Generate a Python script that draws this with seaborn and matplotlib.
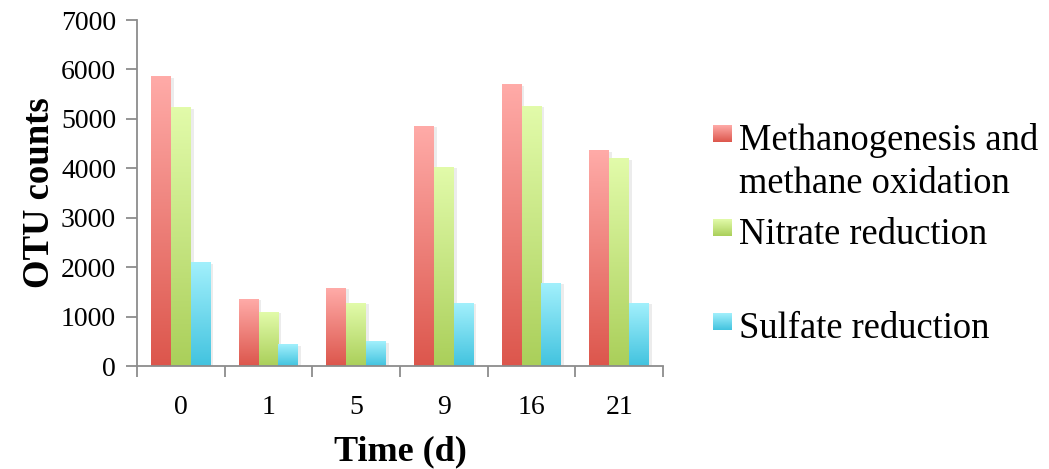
import numpy as np
import pandas as pd
import matplotlib
matplotlib.use("Agg")
import matplotlib.pyplot as plt
import seaborn as sns
from matplotlib.colors import to_rgb
from matplotlib.ticker import MultipleLocator, FixedLocator
import matplotlib.patheffects as pe

# ---- data ----
times = ["0", "1", "5", "9", "16", "21"]
series = ["Methanogenesis and methane oxidation", "Nitrate reduction", "Sulfate reduction"]
methane = [5860, 1355, 1578, 4855, 5685, 4350]
nitrate = [5220, 1092, 1274, 4026, 5260, 4188]
sulfate = [2084, 425, 486, 1274, 1679, 1274]
legend_lines = [["Methanogenesis and", "methane oxidation"], ["Nitrate reduction"], ["Sulfate reduction"]]

# gradient colours (top, bottom)
grads = [("#FFABA8", "#DC564C"), ("#E2FBAA", "#AACF5A"), ("#A2F0FC", "#42C3DF")]

df = pd.DataFrame({
    "Time": times * 3,
    "Series": sum([[s] * len(times) for s in series], []),
    "Count": methane + nitrate + sulfate,
})

sns.set_theme(style="white")
plt.rcParams["font.family"] = ["Liberation Serif", "DejaVu Serif"]
plt.rcParams["text.color"] = "black"
plt.rcParams["axes.labelcolor"] = "black"

W, H = 1049, 469
fig = plt.figure(figsize=(W / 100, H / 100), dpi=100)
ax = fig.add_axes([137 / W, 1 - 366 / H, (663 - 137) / W, (366 - 20) / H])

mid = [tuple((np.array(to_rgb(a)) + np.array(to_rgb(b))) / 2) for a, b in grads]
sns.barplot(data=df, x="Time", y="Count", hue="Series", order=times, hue_order=series,
            palette=mid, width=0.68, legend=False, ax=ax, saturation=1, linewidth=0)

def gradient_img(top, bottom, n=256):
    t = np.linspace(0, 1, n)[:, None]
    b = np.array(to_rgb(bottom)); tp = np.array(to_rgb(top))
    arr = b[None, :] * (1 - t) + tp[None, :] * t
    return arr[:, None, :]

for cont, (top, bot) in zip(ax.containers, grads):
    img = gradient_img(top, bot)
    for p in cont.patches:
        x, w, h = p.get_x(), p.get_width(), p.get_height()
        p.set_path_effects([pe.SimplePatchShadow(offset=(2, -1), shadow_rgbFace="#999999", alpha=0.18), pe.Normal()])
        ax.imshow(img, extent=[x, x + w, 0, h], origin="lower", aspect="auto",
                  zorder=p.get_zorder() + 0.1, interpolation="bilinear")

ax.set_xlim(-0.5, 5.5)
ax.set_ylim(0, 7000)
ax.yaxis.set_major_locator(MultipleLocator(1000))

for s in ["top", "right"]:
    ax.spines[s].set_visible(False)
for s in ["left", "bottom"]:
    ax.spines[s].set_color("#8c8c8c")
    ax.spines[s].set_linewidth(1.3)

ax.xaxis.set_minor_locator(FixedLocator(np.arange(-0.5, 6.0, 1.0)))
ax.tick_params(axis="x", which="major", length=0, pad=21, labelsize=20, labelcolor="black")
ax.tick_params(axis="x", which="minor", length=8, width=1.3, color="#8c8c8c", direction="out", bottom=True)
ax.tick_params(axis="y", which="major", length=8, width=1.3, color="#8c8c8c", direction="out", left=True,
               pad=7, labelsize=20, labelcolor="black")

ax.set_xlabel("")
ax.set_ylabel("")
fig.text(40 / W, 1 - 193 / H, "OTU counts", rotation=90, ha="center", va="center",
         fontsize=26.5, fontweight="bold", color="black")
fig.text(400 / W, 1 - 460 / H, "Time (d)", ha="center", va="baseline",
         fontsize=26, fontweight="bold", color="black")

# legend drawn in a pixel-coordinate axes
lax = fig.add_axes([680 / W, 0, (W - 680) / W, 1])
lax.set_xlim(680, W)
lax.set_ylim(H, 0)
lax.axis("off")
sq_tops = [125, 219, 313]
for (top, bot), lines, yt in zip(grads, legend_lines, sq_tops):
    lax.imshow(gradient_img(top, bot), extent=[713, 732, yt + 17, yt], origin="lower",
               aspect="auto", interpolation="bilinear")
    for k, ln in enumerate(lines):
        lax.text(739, yt + 25 + 43 * k, ln, fontsize=26.3, va="baseline", ha="left", color="black")
lax.set_xlim(680, W)
lax.set_ylim(H, 0)

fig.savefig("out.png", dpi=100)
